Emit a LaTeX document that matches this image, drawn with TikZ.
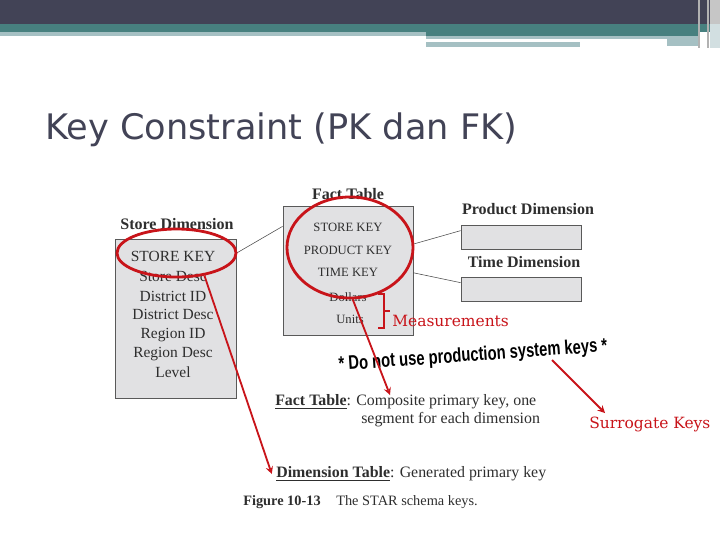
\documentclass[tikz,border=0pt]{standalone}
\usepackage{fontspec}
\setmainfont{Liberation Serif}
\newfontfamily\slidefont{DejaVu Sans}
\newfontfamily\notefont{DejaVu Serif}
\newfontfamily\stampfont{Liberation Sans}
\usetikzlibrary{positioning,arrows,shapes.geometric}

\definecolor{darkbar}{HTML}{424356}
\definecolor{tealbar}{HTML}{47807F}
\definecolor{lightbar}{HTML}{A5C0C3}
\definecolor{boxgray}{HTML}{E1E1E3}
\definecolor{markred}{HTML}{C8141A}
\definecolor{inkgray}{HTML}{2E2E2E}

\begin{document}
\begin{tikzpicture}[x=0.025cm,y=-0.025cm,
  tbl/.style={draw=gray!70!black, fill=boxgray, line width=0.6pt},
  hdr/.style={font=\fontsize{11.4}{13}\selectfont\bfseries, text=inkgray, inner sep=0pt},
  fld/.style={font=\fontsize{11}{12}\selectfont, text=inkgray, inner sep=0pt, text height=1.5ex, text depth=0pt},
  sfld/.style={font=\fontsize{9}{10}\selectfont, text=inkgray, inner sep=0pt, text height=1.5ex, text depth=0pt},
  desc/.style={font=\fontsize{11.3}{13}\selectfont, text=inkgray, inner sep=0pt, anchor=west},
  note/.style={font=\notefont\fontsize{11}{13}\selectfont, text=markred, inner sep=0pt, anchor=west},
  ring/.style={draw=markred, line width=2pt, ellipse, inner sep=0pt},
  pointer/.style={draw=markred, line width=1.3pt, ->, >=stealth},
  link/.style={draw=gray!60!black, line width=0.4pt}
]
\useasboundingbox (0,0) rectangle (720,540);

% slide header
\fill[darkbar] (0,0) rectangle (720,24);
\fill[tealbar] (0,24) rectangle (720,32);
\fill[lightbar] (0,32) rectangle (426,36);
\fill[tealbar] (426,32) rectangle (698,36);
\fill[lightbar] (426,36) rectangle (667,39);
\fill[lightbar] (426,42) rectangle (580,47);
\fill[lightbar] (667,36) rectangle (698,46);
\fill[gray!45] (710,0) rectangle (720,24);
\fill[lightbar!50] (710,24) rectangle (720,48);
\fill[gray!60] (698,0) rectangle (700,48);
\fill[gray!60] (707,0) rectangle (709,48);

\node[anchor=base west, font=\slidefont\fontsize{25}{30}\selectfont, text=darkbar, inner sep=0pt] (title) at (45,139) {Key Constraint (PK dan FK)};

% Store dimension
\node[hdr] (storehdr) at (177,224) {Store Dimension};
\node[tbl, minimum width=3.025cm, minimum height=3.975cm] (storebox) at (175.5,318.5) {};
\foreach \y/\txt in {257/STORE KEY, 277/Store Desc, 297/District ID, 315/District Desc, 334/Region ID, 353/Region Desc, 373/Level}
  \node[fld] (st\y) at (173,\y) {\txt};

% Fact table
\node[hdr] (facthdr) at (348,194) {Fact Table};
\node[tbl, minimum width=3.25cm, minimum height=3.225cm] (factbox) at (348,270.5) {};
\node[sfld] (fsk) at (348,227) {STORE KEY};
\node[sfld] (fpk) at (348,250) {PRODUCT KEY};
\node[sfld] (ftk) at (348,272) {TIME KEY};
\node[sfld] (fdol) at (348,297) {Dollars};
\node[sfld] (funit) at (350,319) {Units};

% other dimensions
\node[hdr] (prodhdr) at (528,209) {Product Dimension};
\node[tbl, minimum width=3cm, minimum height=0.6cm] (prodbox) at (521,237) {};
\node[hdr] (timehdr) at (524,262) {Time Dimension};
\node[tbl, minimum width=3cm, minimum height=0.6cm] (timebox) at (521,289) {};

\draw[link] (storebox.47.2) -- (factbox.146.2);
\draw[link] (factbox.22.9) -- (prodbox.174.3);
\draw[link] (factbox.-2.2) -- (timebox.174.3);

% keys text
\node[desc] (factdesc) at (275,402) {\underline{\textbf{Fact Table}}: Composite primary key, one};
\node[desc] (factdesc2) at (361,420) {segment for each dimension};
\node[desc] (dimdesc) at (276,474) {\underline{\textbf{Dimension Table}}: Generated primary key};
\node[desc, font=\fontsize{10.2}{12}\selectfont\bfseries] (figlbl) at (243,502) {Figure 10-13};
\node[desc, font=\fontsize{10.2}{12}\selectfont] (figtxt) at (336,502) {The STAR schema keys.};

\node[font=\stampfont\fontsize{14}{15}\selectfont\bfseries, text=black, inner sep=0pt, rotate=4, xscale=0.75] (warn) at (473,356) {* Do not use production system keys *};

% red marks
\node[ring, minimum width=2.975cm, minimum height=1.2cm] (storering) at (176.5,253) {};
\node[ring, minimum width=3.15cm, minimum height=2.525cm] (factring) at (350,247.5) {};

\draw[markred, line width=0.8pt] (378,294) -- (384,294) -- (384,328) -- (378,328);
\draw[markred, line width=0.8pt] (384,311) -- (390,311);
\node[note] (meas) at (392,321) {Measurements};
\node[note] (surr) at (589,424) {Surrogate Keys};

\coordinate (factaim) at (390,395);
\coordinate (keysfrom) at (552,360);
\coordinate (surraim) at (605,413);
\draw[pointer] (storering.-39) -- ([xshift=-3pt]dimdesc.west);
\draw[pointer] (factring.-87) -- (factaim);
\draw[pointer] (keysfrom) -- (surraim);

\end{tikzpicture}
\end{document}
